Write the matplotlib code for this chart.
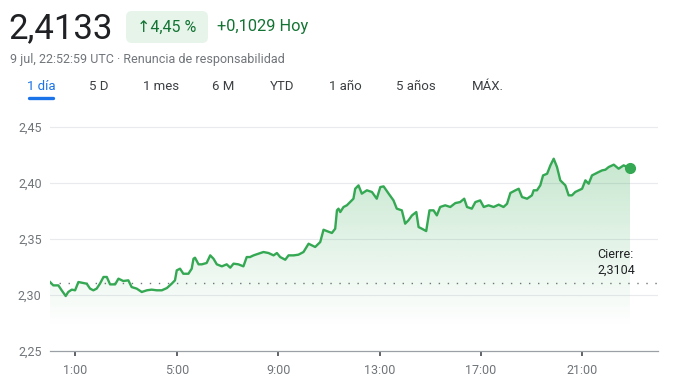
# Intraday price chart, 1 day view (Google Finance style)
import numpy as np
import matplotlib.pyplot as plt
from matplotlib.patches import FancyBboxPatch, Polygon

# ----------------------------
# Data
# ----------------------------
HOURS = [
    0.00, 0.13, 0.33, 0.46, 0.62, 0.72, 0.86, 0.99, 1.12, 1.32, 1.45, 1.58,
    1.71, 1.84, 1.97, 2.11, 2.24, 2.37, 2.57, 2.70, 2.89, 3.09, 3.22, 3.42,
    3.62, 3.82, 4.01, 4.21, 4.41, 4.61, 4.80, 4.93, 5.00, 5.13, 5.26, 5.46,
    5.59, 5.66, 5.72, 5.86, 5.99, 6.18, 6.32, 6.45, 6.58, 6.78, 6.97, 7.11,
    7.24, 7.43, 7.63, 7.76, 7.89, 8.03, 8.22, 8.42, 8.62, 8.82, 8.95, 9.08,
    9.28, 9.41, 9.61, 9.80, 10.00, 10.20, 10.33, 10.46, 10.66, 10.79, 10.92,
    11.12, 11.25, 11.32, 11.38, 11.45, 11.58, 11.71, 11.84, 11.97, 12.04,
    12.17, 12.30, 12.50, 12.70, 12.89, 13.03, 13.16, 13.36, 13.55, 13.68,
    13.88, 14.01, 14.14, 14.28, 14.45, 14.54, 14.67, 14.84, 14.97, 15.13,
    15.26, 15.39, 15.59, 15.79, 15.99, 16.18, 16.34, 16.45, 16.64, 16.78,
    16.97, 17.11, 17.30, 17.50, 17.70, 17.89, 18.03, 18.16, 18.36, 18.49,
    18.62, 18.82, 19.01, 19.08, 19.21, 19.34, 19.45, 19.61, 19.74, 19.87,
    20.00, 20.13, 20.33, 20.46, 20.59, 20.72, 20.86, 20.99, 21.12, 21.25,
    21.38, 21.51, 21.64, 21.78, 21.91, 22.04, 22.24, 22.43, 22.63, 22.76,
    22.88,
]
PRICES = [
    2.3116, 2.3086, 2.3086, 2.3042, 2.2991, 2.3027, 2.3048, 2.3042, 2.3116,
    2.3107, 2.3101, 2.3057, 2.3042, 2.3057, 2.3101, 2.3161, 2.3161, 2.3095,
    2.3095, 2.3146, 2.3125, 2.3131, 2.3071, 2.3057, 2.3027, 2.3042, 2.3048,
    2.3042, 2.3042, 2.3062, 2.3101, 2.3131, 2.3220, 2.3235, 2.3190, 2.3190,
    2.3235, 2.3324, 2.3333, 2.3274, 2.3274, 2.3286, 2.3354, 2.3324, 2.3274,
    2.3256, 2.3274, 2.3244, 2.3280, 2.3274, 2.3256, 2.3339, 2.3339, 2.3354,
    2.3369, 2.3384, 2.3375, 2.3354, 2.3375, 2.3339, 2.3315, 2.3354, 2.3354,
    2.3360, 2.3384, 2.3458, 2.3443, 2.3429, 2.3473, 2.3583, 2.3571, 2.3554,
    2.3592, 2.3756, 2.3771, 2.3741, 2.3786, 2.3801, 2.3830, 2.3860, 2.3949,
    2.3979, 2.3905, 2.3935, 2.3920, 2.3860, 2.3964, 2.3970, 2.3905, 2.3845,
    2.3771, 2.3756, 2.3637, 2.3667, 2.3711, 2.3741, 2.3607, 2.3592, 2.3571,
    2.3756, 2.3756, 2.3711, 2.3786, 2.3801, 2.3786, 2.3821, 2.3830, 2.3860,
    2.3786, 2.3771, 2.3830, 2.3845, 2.3786, 2.3801, 2.3786, 2.3807, 2.3786,
    2.3815, 2.3911, 2.3935, 2.3949, 2.3875, 2.3860, 2.3890, 2.3935, 2.3935,
    2.3979, 2.4068, 2.4083, 2.4158, 2.4217, 2.4143, 2.4024, 2.3979, 2.3890,
    2.3890, 2.3920, 2.3935, 2.3949, 2.4024, 2.3994, 2.4068, 2.4083, 2.4098,
    2.4113, 2.4119, 2.4143, 2.4164, 2.4128, 2.4158, 2.4143, 2.4133,
]
PREV_CLOSE = 2.3104

X_TICKS = [1, 5, 9, 13, 17, 21]
X_TICK_LABELS = ["1:00", "5:00", "9:00", "13:00", "17:00", "21:00"]
Y_TICKS = [2.25, 2.30, 2.35, 2.40, 2.45]
Y_TICK_LABELS = ["2,25", "2,30", "2,35", "2,40", "2,45"]

PRICE_TEXT = "2,4133"
PCT_TEXT = "↑4,45 %"
CHANGE_TEXT = "+0,1029 Hoy"
STAMP_TEXT = "9 jul, 22:52:59 UTC · Renuncia de responsabilidad"
TABS = ["1 día", "5 D", "1 mes", "6 M", "YTD", "1 año", "5 años", "MÁX."]
TAB_X = [41, 99, 161, 223, 282, 345, 416, 488]   # tab centres, px
CLOSE_LABEL = "Cierre:\n2,3104"

GREEN = "#34a853"
GREEN_TXT = "#137333"
GREY_TXT = "#70757a"
DARK_TXT = "#202124"

plt.rcParams["font.family"] = ["Roboto", "DejaVu Sans"]

W, H = 680, 387
fig = plt.figure(figsize=(W / 100, H / 100), dpi=100)

# ----------------------------
# Chart
# ----------------------------
ax = fig.add_axes([50 / W, 1 - 351 / H, (658.4 - 50) / W, (351 - 124.8) / H])
ax.set_xlim(0, 24)
ax.set_ylim(2.25, 2.452)

hours = np.array(HOURS)
prices = np.array(PRICES)

# gradient fill under the line
poly_xy = np.vstack([[hours[0], 2.25], np.column_stack([hours, prices]),
                     [hours[-1], 2.25]])
clip = Polygon(poly_xy, closed=True, facecolor="none", edgecolor="none")
ax.add_patch(clip)
yy = np.linspace(2.25, 2.452, 300)
alpha = np.clip((yy - 2.272) / 0.15, 0, None) * 0.28
rgba = np.zeros((len(yy), 1, 4))
rgba[..., 0], rgba[..., 1], rgba[..., 2] = 0x34 / 255, 0xa8 / 255, 0x53 / 255
rgba[:, 0, 3] = alpha
im = ax.imshow(rgba, extent=[hours[0], hours[-1], 2.25, 2.452], origin="lower",
               aspect="auto", zorder=1, interpolation="bilinear")
im.set_clip_path(clip)

for v in Y_TICKS[1:]:
    ax.axhline(v, color="#e8eaed", lw=0.8, zorder=0)

ax.axhline(PREV_CLOSE, color="#70757a", lw=1.0, ls=(0, (1, 5.5)), zorder=2)
ax.plot(hours, prices, color=GREEN, lw=1.7, zorder=3, solid_joinstyle="round")
ax.plot(hours[-1], prices[-1], "o", color=GREEN, ms=7, zorder=4)

ax.text(21.6, 2.3165, CLOSE_LABEL, fontsize=9, color=DARK_TXT,
        ha="left", va="bottom", linespacing=1.25, zorder=5)

for s in ("top", "left", "right"):
    ax.spines[s].set_visible(False)
ax.spines["bottom"].set_color("#9aa0a6")
ax.spines["bottom"].set_linewidth(0.9)

ax.set_xticks(X_TICKS)
ax.set_xticklabels(X_TICK_LABELS)
ax.set_yticks(Y_TICKS)
ax.set_yticklabels(Y_TICK_LABELS)
ax.tick_params(axis="x", length=3.5, width=1.4, color="#5f6368", pad=6,
               labelsize=9, labelcolor=GREY_TXT, direction="out")
ax.tick_params(axis="y", length=0, pad=6, labelsize=9, labelcolor=GREY_TXT)

# ----------------------------
# Header (pixel overlay)
# ----------------------------
hdr = fig.add_axes([0, 0, 1, 1], zorder=-1)
hdr.set_xlim(0, W)
hdr.set_ylim(H, 0)
hdr.axis("off")

hdr.text(8, 29, PRICE_TEXT, fontsize=25, color=DARK_TXT, ha="left", va="center")
hdr.add_patch(FancyBboxPatch((126, 11), 82, 32,
                             boxstyle="round,pad=0,rounding_size=6",
                             facecolor="#e6f4ea", edgecolor="none"))
hdr.text(167, 27, PCT_TEXT, fontsize=11.5, color=GREEN_TXT,
         ha="center", va="center")
hdr.text(217, 27, CHANGE_TEXT, fontsize=11.8, color=GREEN_TXT,
         ha="left", va="center")
hdr.text(10, 59, STAMP_TEXT, fontsize=9, color=GREY_TXT,
         ha="left", va="center")

for i, (lab, cx) in enumerate(zip(TABS, TAB_X)):
    hdr.text(cx, 87, lab, fontsize=9.5, ha="center", va="center",
             color="#1a73e8" if i == 0 else "#3c4043")
hdr.plot([29, 53], [97.5, 97.5], color="#1a73e8", lw=2.4,
         solid_capstyle="round")

fig.savefig("out.png", dpi=100)
